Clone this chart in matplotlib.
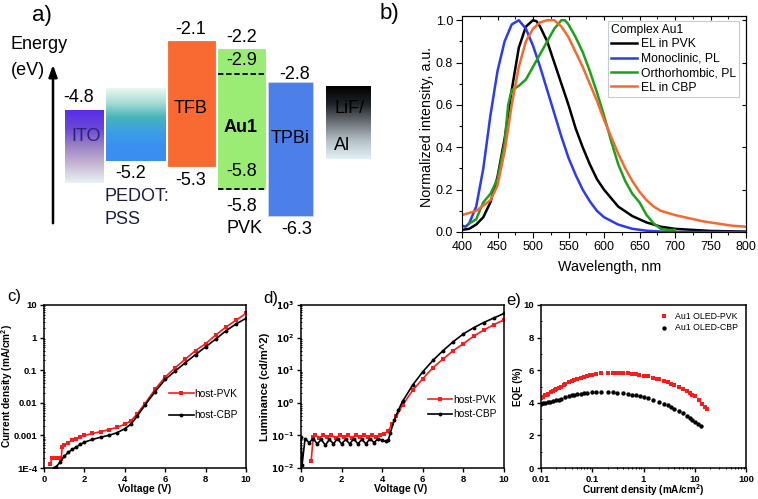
import numpy as np
import matplotlib
matplotlib.use("Agg")
import matplotlib.pyplot as plt
from matplotlib.colors import LinearSegmentedColormap

plt.rcParams["font.family"] = ["Liberation Sans", "DejaVu Sans"]
plt.rcParams["mathtext.default"] = "regular"

# MARK: data

# a) energy diagram, levels as drawn (eV)
layers = ["ITO", "PEDOT", "TFB", "Au1", "TPBi", "LiF"]
layer_x0 = [65, 106, 168, 218, 268, 326]
layer_x1 = [104, 166, 215, 265, 313, 371]
layer_top = [-3.75, -3.25, -2.10, -2.29, -3.09, -3.21]
layer_bottom = [-5.50, -4.98, -5.10, -5.65, -6.30, -4.94]
pvk_levels = [-2.89, -5.65]

# b) spectra
wl_black = [400, 410, 420, 430, 440, 450, 460, 470, 480, 490, 500, 505, 510, 520, 530, 540,
            550, 560, 570, 580, 590, 600, 620, 640, 660, 680, 700, 750, 800]
el_pvk = [0.01, 0.015, 0.035, 0.07, 0.14, 0.26, 0.44, 0.67, 0.87, 0.97, 1.0, 0.995, 0.97, 0.9,
          0.8, 0.7, 0.6, 0.49, 0.4, 0.32, 0.25, 0.2, 0.12, 0.075, 0.045, 0.025, 0.015, 0.005, 0.002]
wl_blue = [400, 405, 410, 420, 430, 440, 450, 460, 470, 480, 490, 500, 510, 520, 530, 540, 550,
           560, 570, 580, 590, 600, 620, 640, 660, 680, 700, 800]
mono_pl = [0.03, 0.025, 0.04, 0.12, 0.3, 0.55, 0.76, 0.9, 0.98, 1.0, 0.96, 0.88, 0.78, 0.67,
           0.56, 0.45, 0.35, 0.27, 0.2, 0.145, 0.1, 0.07, 0.035, 0.015, 0.006, 0.002, 0.0, 0.0]
wl_green = [410, 420, 430, 440, 450, 460, 465, 470, 480, 490, 500, 510, 520, 530, 540, 545, 550,
            560, 570, 580, 590, 600, 610, 620, 630, 640, 650, 660, 670, 680, 690, 700]
ortho_pl = [0.04, 0.06, 0.14, 0.18, 0.25, 0.42, 0.6, 0.67, 0.69, 0.72, 0.78, 0.84, 0.9, 0.96,
            1.0, 1.0, 0.98, 0.92, 0.85, 0.76, 0.66, 0.55, 0.43, 0.32, 0.24, 0.18, 0.14, 0.08,
            0.04, 0.015, 0.01, 0.01]
wl_orange = [400, 420, 440, 450, 460, 470, 480, 490, 500, 510, 520, 530, 540, 550, 560, 570,
             580, 590, 600, 610, 620, 630, 640, 650, 660, 670, 680, 700, 720, 740, 760, 780, 800]
el_cbp = [0.08, 0.1, 0.15, 0.22, 0.38, 0.6, 0.78, 0.9, 0.96, 0.99, 1.0, 1.0, 0.97, 0.92, 0.85,
          0.78, 0.7, 0.62, 0.53, 0.45, 0.37, 0.3, 0.24, 0.19, 0.15, 0.12, 0.1, 0.08, 0.065,
          0.05, 0.04, 0.03, 0.025]

# c) J-V
v_c_pvk = [0.3, 0.4, 0.6, 0.8, 0.85, 0.9, 1.0, 1.2, 1.4, 1.6, 1.8, 2.0, 2.4, 2.8, 3.2, 3.6, 4.0,
           4.3, 4.6, 5.0, 5.5, 6.0, 6.5, 7.0, 7.5, 8.0, 8.5, 9.0, 9.5, 10.0]
j_pvk = [1.3e-4, 2e-4, 2e-4, 2e-4, 1.9e-4, 4.5e-4, 5e-4, 6e-4, 7e-4, 7.5e-4, 9e-4, 1.0e-3,
         1.15e-3, 1.3e-3, 1.5e-3, 1.75e-3, 2.2e-3, 2.8e-3, 4.5e-3, 9.5e-3, 0.026, 0.062, 0.12,
         0.22, 0.4, 0.65, 1.2, 2.1, 3.4, 5.5]
v_c_cbp = [0.5, 0.6, 0.8, 1.0, 1.2, 1.4, 1.6, 1.8, 2.0, 2.4, 2.8, 3.2, 3.6, 4.0, 4.3, 4.6, 5.0,
           5.5, 6.0, 6.5, 7.0, 7.5, 8.0, 8.5, 9.0, 9.5, 10.0]
j_cbp = [1e-4, 1.1e-4, 1.5e-4, 2.3e-4, 3e-4, 3.7e-4, 4.4e-4, 5.3e-4, 6.2e-4, 7.5e-4, 8.8e-4,
         1.0e-3, 1.2e-3, 1.6e-3, 2.2e-3, 3.8e-3, 8.5e-3, 0.022, 0.052, 0.095, 0.17, 0.3, 0.52,
         0.9, 1.6, 2.6, 3.9]

# d) L-V
v_d_pvk = [0.5, 0.6, 0.7, 0.9, 1.1, 1.3, 1.5, 1.7, 1.9, 2.1, 2.3, 2.5, 2.7, 2.9, 3.1, 3.3, 3.5,
           3.7, 3.9, 4.1, 4.3, 4.5, 4.7, 5.0, 5.5, 6.0, 6.5, 7.0, 7.5, 8.0, 8.5, 9.0, 9.5, 10.0]
lum_pvk = [0.016, 0.09, 0.1, 0.085, 0.1, 0.09, 0.1, 0.085, 0.1, 0.09, 0.1, 0.085, 0.1, 0.09,
           0.1, 0.09, 0.1, 0.09, 0.1, 0.11, 0.14, 0.22, 0.38, 0.85, 2.4, 5.5, 12, 22, 40, 65,
           110, 170, 250, 350]
v_d_cbp = [0.0, 0.05, 0.2, 0.4, 0.6, 0.8, 1.0, 1.2, 1.4, 1.6, 1.8, 2.0, 2.2, 2.4, 2.6, 2.8, 3.0,
           3.2, 3.4, 3.6, 3.8, 4.0, 4.2, 4.3, 4.4, 4.6, 4.8, 5.0, 5.5, 6.0, 6.5, 7.0, 7.5, 8.0,
           8.5, 9.0, 9.5, 10.0]
lum_cbp = [0.09, 0.012, 0.08, 0.06, 0.08, 0.055, 0.075, 0.05, 0.075, 0.055, 0.08, 0.055, 0.075,
           0.055, 0.08, 0.055, 0.075, 0.055, 0.08, 0.06, 0.08, 0.07, 0.065, 0.07, 0.12, 0.3, 0.6,
           1.1, 3.5, 9, 20, 40, 75, 130, 200, 290, 400, 550]

# e) EQE
j_e_pvk = [0.01, 0.011, 0.012, 0.013, 0.014, 0.016, 0.017, 0.019, 0.02, 0.022, 0.025, 0.028,
           0.03, 0.035, 0.04, 0.045, 0.05, 0.06, 0.07, 0.08, 0.09, 0.1, 0.12, 0.15, 0.2, 0.25,
           0.3, 0.35, 0.4, 0.5, 0.6, 0.7, 0.8, 1.0, 1.2, 1.5, 1.8, 2, 2.5, 3, 3.5, 4, 5, 6, 7, 8,
           9, 10, 12, 14, 16, 17]
eqe_pvk = [4.3, 4.38, 4.45, 4.5, 4.55, 4.68, 4.75, 4.8, 4.85, 4.92, 5.0, 5.1, 5.15, 5.25, 5.35,
           5.4, 5.45, 5.55, 5.6, 5.65, 5.69, 5.72, 5.77, 5.8, 5.83, 5.84, 5.84, 5.83, 5.82, 5.8,
           5.77, 5.75, 5.72, 5.67, 5.62, 5.55, 5.49, 5.45, 5.35, 5.25, 5.18, 5.1, 4.95, 4.82,
           4.7, 4.6, 4.5, 4.4, 4.15, 3.95, 3.75, 3.65]
j_e_cbp = [0.01, 0.011, 0.012, 0.014, 0.015, 0.017, 0.02, 0.022, 0.025, 0.03, 0.035, 0.04,
           0.045, 0.05, 0.06, 0.07, 0.08, 0.1, 0.12, 0.15, 0.2, 0.25, 0.3, 0.4, 0.5, 0.6, 0.7,
           0.85, 1.0, 1.2, 1.5, 2, 2.5, 3, 3.5, 4, 5, 6, 7, 8, 9, 10, 11.5, 13]
eqe_cbp = [3.95, 3.97, 4.0, 4.03, 4.05, 4.1, 4.15, 4.2, 4.25, 4.33, 4.4, 4.45, 4.49, 4.52,
           4.57, 4.6, 4.62, 4.65, 4.66, 4.67, 4.66, 4.64, 4.62, 4.58, 4.52, 4.49, 4.45, 4.4,
           4.35, 4.28, 4.2, 4.05, 3.95, 3.85, 3.75, 3.65, 3.5, 3.35, 3.22, 3.05, 2.95, 2.85,
           2.72, 2.6]

c_ytick_labels = ["1E-4", "0.001", "0.01", "0.1", "1", "10"]
e_xtick_labels = ["0.01", "0.1", "1", "10", "100"]

W, H = 758, 499
RED = "#ff1a1a"


def E(ypx):
    # pixel row of panel a -> drawn energy scale
    return -2.1 - (ypx - 41) / 41.7


def fx(px):
    return px / W


def fy(py):
    return 1 - py / H


fig = plt.figure(figsize=(W / 100, H / 100), dpi=100)

# MARK: a)
ax = fig.add_axes([0, fy(250), 380 / W, 250 / H])
ax.set_xlim(0, 380)
ax.set_ylim(E(250), E(0))
ax.axis("off")

grads = {
    "ITO": ["#5a2ee8", "#6a48d8", "#9c84c4", "#c8b8d4", "#e8f2f2"],
    "PEDOT": ["#eaf6f2", "#a8dcd4", "#48b4b8", "#3c9ee6", "#3a90f0", "#3a8ef0"],
    "LiF": ["#000000", "#202428", "#6c7278", "#b4c0c6", "#e2f0f4"],
}
solid = {"TFB": "#f96a32", "Au1": "#9aec74", "TPBi": "#4c7fea"}

for name, x0, x1, top, bot in zip(layers, layer_x0, layer_x1, layer_top, layer_bottom):
    if name in grads:
        cmap = LinearSegmentedColormap.from_list(name, grads[name])
        ax.imshow(np.linspace(0, 1, 100).reshape(-1, 1), cmap=cmap, aspect="auto",
                  extent=[x0, x1, bot, top], origin="upper", zorder=1)
    else:
        ax.fill_between([x0, x1], bot, top, color=solid[name], lw=0.6,
                        edgecolor="#c8d8f0" if name == "TPBi" else solid[name], zorder=1)
for lvl in pvk_levels:
    ax.plot([layer_x0[3], layer_x1[3]], [lvl, lvl], ls=(0, (3, 1.5)), color="black", lw=1.3,
            zorder=2)

FS = 13
txt = dict(ha="center", va="center", fontsize=FS)
left = dict(ha="left", va="center", fontsize=FS)
ax.text(11, E(45), "Energy", **left)
ax.text(11, E(71), "(eV)", **left)
ax.annotate("", xy=(53, E(62)), xytext=(53, E(226)),
            arrowprops=dict(arrowstyle="-|>,head_width=0.25,head_length=0.7", lw=1.8,
                            color="black"))
ax.text(79, E(98), "-4.8", **txt)
ax.text(86, E(137), "ITO", color="#302070", **txt)
ax.text(131, E(174), "-5.2", **txt)
ax.text(105, E(197), "PEDOT:", color="#1c1c44", **left)
ax.text(105, E(220), "PSS", color="#1c1c44", **left)
ax.text(191, E(30), "-2.1", **txt)
ax.text(191, E(109), "TFB", **txt)
ax.text(191, E(181), "-5.3", **txt)
ax.text(242, E(38), "-2.2", **txt)
ax.text(242, E(61), "-2.9", **txt)
ax.text(241, E(128), "Au1", fontweight="bold", **txt)
ax.text(242, E(172), "-5.8", **txt)
ax.text(242, E(207), "-5.8", **txt)
ax.text(244, E(229), "PVK", **txt)
ax.text(295, E(75), "-2.8", **txt)
ax.text(290, E(139), "TPBi", **txt)
ax.text(297, E(230), "-6.3", **txt)
ax.text(334, E(109), "LiF/", **left)
ax.text(334, E(146), "Al", **left)

# MARK: b)
bx = fig.add_axes([fx(462), fy(232), 284 / W, 216 / H])
bx.plot(wl_black, el_pvk, color="black", lw=1.8, label="EL in PVK")
bx.plot(wl_blue, mono_pl, color="#2b3bf0", lw=1.8, label="Monoclinic, PL")
bx.plot(wl_green, ortho_pl, color="#1ca01c", lw=1.8, label="Orthorhombic, PL")
bx.plot(wl_orange, el_cbp, color="#f7682e", lw=1.8, label="EL in CBP")
bx.set_xlim(400, 800)
bx.set_ylim(0, 1.02)
bx.set_xticks(range(400, 801, 50))
bx.set_yticks([0, 0.2, 0.4, 0.6, 0.8, 1.0])
bx.yaxis.set_major_formatter(matplotlib.ticker.FormatStrFormatter("%.1f"))
bx.xaxis.set_minor_locator(matplotlib.ticker.MultipleLocator(25))
bx.yaxis.set_minor_locator(matplotlib.ticker.MultipleLocator(0.1))
bx.tick_params(labelsize=9, length=4, width=0.8, direction="out", pad=2.5)
bx.tick_params(which="minor", length=2, width=0.8)
for s in bx.spines.values():
    s.set_linewidth(0.8)
sec = bx.secondary_xaxis("top")
sec.set_xticks(range(400, 801, 50))
sec.xaxis.set_minor_locator(matplotlib.ticker.MultipleLocator(25))
sec.tick_params(direction="in", labeltop=False, length=3)
sec.tick_params(which="minor", direction="in", length=2)
secy = bx.secondary_yaxis("right")
secy.set_yticks([0, 0.2, 0.4, 0.6, 0.8, 1.0])
secy.tick_params(direction="in", labelright=False, length=3)
bx.set_xlabel("Wavelength, nm", fontsize=10.3)
bx.set_ylabel("Normalized intensity, a.u.", fontsize=10.3)
bx.xaxis.set_label_coords(0.52, -0.128)
bx.yaxis.set_label_coords(-0.1, 0.486)
leg = bx.legend(title="Complex Au1", loc="upper right", bbox_to_anchor=(0.975, 0.977),
                fontsize=8.7, title_fontsize=8.7, alignment="left", fancybox=False,
                edgecolor="#b8c0c8", handlelength=2.2, handletextpad=0.3, borderpad=0.25,
                labelspacing=0.2, borderaxespad=0)
leg.get_frame().set_linewidth(0.8)

# MARK: c), d), e)


def style_small(a, size=6.8):
    for s in a.spines.values():
        s.set_linewidth(1.1)
    a.tick_params(labelsize=size, length=3, width=1, direction="out", pad=2)
    a.tick_params(which="minor", length=2, width=0.7, direction="inout")
    for lab in a.get_xticklabels() + a.get_yticklabels():
        lab.set_fontweight("bold")


cx = fig.add_axes([fx(44), fy(468), 202 / W, 163 / H])
cx.plot(v_c_pvk, j_pvk, color=RED, marker="s", ms=2.8, lw=1.2, mew=0, label="host-PVK")
cx.plot(v_c_cbp, j_cbp, color="black", marker="o", ms=2.8, lw=1.2, mew=0, label="host-CBP")
cx.set_yscale("log")
cx.set_xlim(0, 10)
cx.set_ylim(1e-4, 10)
cx.set_xticks([0, 2, 4, 6, 8, 10])
cx.set_yticks([1e-4, 1e-3, 1e-2, 1e-1, 1, 10])
cx.set_yticklabels(c_ytick_labels)
style_small(cx)
cx.set_xlabel("Voltage (V)", fontsize=7.5, fontweight="bold")
cx.set_ylabel("Current density (mA/cm$^2$)", fontsize=7.3, fontweight="bold")
cx.xaxis.set_label_coords(0.5, -0.1)
cx.yaxis.set_label_coords(-0.145, 0.5)
cx.legend(loc="upper left", bbox_to_anchor=(0.62, 0.485), frameon=False, fontsize=7.3,
          handlelength=2.4, handletextpad=0.1, labelspacing=1.1, borderpad=0, borderaxespad=0)

dx = fig.add_axes([fx(301), fy(468), 203 / W, 163 / H])
dx.plot(v_d_pvk, lum_pvk, color=RED, marker="s", ms=2.8, lw=1.2, mew=0, label="host-PVK")
dx.plot(v_d_cbp, lum_cbp, color="black", marker="o", ms=2.8, lw=1.2, mew=0, label="host-CBP")
dx.set_yscale("log")
dx.set_xlim(0, 10)
dx.set_ylim(1e-2, 1e3)
dx.set_xticks([0, 2, 4, 6, 8, 10])
dx.set_yticks([1e-2, 1e-1, 1, 10, 100, 1000])
dx.set_yticklabels([r"$\mathbf{10^{%d}}$" % p for p in range(-2, 4)])
style_small(dx, size=6.3)
dx.tick_params(axis="x", labelsize=6.8)
dx.set_xlabel("Voltage (V)", fontsize=7.5, fontweight="bold")
dx.set_ylabel("Luminance (cd/m^2)", fontsize=8, fontweight="bold")
dx.xaxis.set_label_coords(0.49, -0.1)
dx.yaxis.set_label_coords(-0.155, 0.5)
dx.legend(loc="upper left", bbox_to_anchor=(0.626, 0.45), frameon=False, fontsize=7.3,
          handlelength=2.4, handletextpad=0.1, labelspacing=0.45, borderpad=0, borderaxespad=0)

ex = fig.add_axes([fx(541), fy(468), 205 / W, 163 / H])
ex.scatter(j_e_pvk, eqe_pvk, color=RED, marker="s", s=10, lw=0, label="Au1 OLED-PVK")
ex.scatter(j_e_cbp, eqe_cbp, color="black", marker="o", s=10, lw=0, label="Au1 OLED-CBP")
ex.set_xscale("log")
ex.set_xlim(0.01, 100)
ex.set_ylim(0, 10)
ex.set_xticks([0.01, 0.1, 1, 10, 100])
ex.set_xticklabels(e_xtick_labels)
ex.set_yticks([0, 2, 4, 6, 8, 10])
ex.yaxis.set_minor_locator(matplotlib.ticker.MultipleLocator(1))
style_small(ex)
ex.set_xlabel("Current density (mA/cm$^2$)", fontsize=7.2, fontweight="bold")
ex.set_ylabel("EQE (%)", fontsize=7, fontweight="bold")
ex.xaxis.set_label_coords(0.5, -0.09)
ex.yaxis.set_label_coords(-0.09, 0.5)
ex.legend(loc="upper left", bbox_to_anchor=(0.575, 0.96), frameon=False, fontsize=6.3,
          handlelength=1.2, handletextpad=0.6, labelspacing=0.3, borderpad=0, borderaxespad=0,
          scatterpoints=1)

# MARK: panel letters
fig.text(fx(32), fy(16), "a)", fontsize=16, va="center")
fig.text(fx(380), fy(14), "b)", fontsize=16, va="center")
fig.text(fx(7), fy(297), "c)", fontsize=12, va="center")
fig.text(fx(263), fy(298), "d)", fontsize=12, va="center")
fig.text(fx(506), fy(300), "e)", fontsize=12, va="center")

fig.savefig("out.png", dpi=100)
plt.close(fig)
